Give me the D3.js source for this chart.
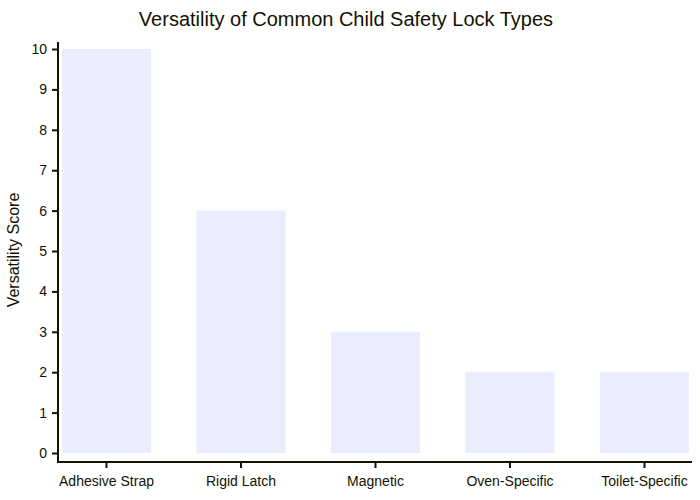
<!DOCTYPE html>
<html>
<head>
<meta charset="utf-8">
<script src="https://cdn.jsdelivr.net/npm/d3@7"></script>
<style>
  body { margin: 0; background: #fff; }
  text { font-family: "Liberation Sans", Arial, sans-serif; fill: #131300; }
</style>
</head>
<body>
<div id="chart"></div>
<script>
// data
const categories = ["Adhesive Strap", "Rigid Latch", "Magnetic", "Oven-Specific", "Toilet-Specific"];
const scores = [10, 6, 3, 2, 2];
const yTicks = [0, 1, 2, 3, 4, 5, 6, 7, 8, 9, 10];

const width = 700;
const height = 500;
const axisColor = "#131300";

const svg = d3.select("#chart")
    .append("svg")
        .attr("width", width)
        .attr("height", height);

// scales
const xScale = d3.scaleBand()
    .domain(categories)
    .range([59, 692])
    .paddingInner(0.338)
    .paddingOuter(0.022);

const yScale = d3.scaleLinear()
    .domain([0, 10])
    .range([453, 49]);

// bars
svg.append("g")
    .selectAll("rect")
    .data(categories)
    .join("rect")
        .attr("x", d => xScale(d))
        .attr("y", (d, i) => yScale(scores[i]))
        .attr("width", xScale.bandwidth())
        .attr("height", (d, i) => yScale(0) - yScale(scores[i]))
        .attr("fill", "#ECECFF");

// y axis
const yAxis = svg.append("g")
    .attr("transform", "translate(58,0)")
    .call(d3.axisLeft(yScale).tickValues(yTicks).tickSize(6).tickPadding(5).tickSizeOuter(0));
yAxis.select(".domain").remove();
yAxis.selectAll(".tick line").attr("stroke", axisColor).attr("stroke-width", 2);
yAxis.selectAll(".tick text").attr("font-size", 14).style("font-family", "Liberation Sans, Arial, sans-serif").attr("fill", axisColor);
svg.append("line")
    .attr("x1", 58).attr("x2", 58)
    .attr("y1", 42).attr("y2", 463)
    .attr("stroke", axisColor).attr("stroke-width", 2);

// x axis
const xAxis = svg.append("g")
    .attr("transform", "translate(0,462)")
    .call(d3.axisBottom(xScale).tickSize(6).tickPadding(8).tickSizeOuter(0));
xAxis.select(".domain").remove();
xAxis.selectAll(".tick line").attr("stroke", axisColor).attr("stroke-width", 2);
xAxis.selectAll(".tick text").attr("font-size", 14).style("font-family", "Liberation Sans, Arial, sans-serif").attr("fill", axisColor);
svg.append("line")
    .attr("x1", 57).attr("x2", 692)
    .attr("y1", 462).attr("y2", 462)
    .attr("stroke", axisColor).attr("stroke-width", 2);

// title
svg.append("text")
    .attr("x", 346)
    .attr("y", 26)
    .attr("text-anchor", "middle")
    .attr("font-size", 20)
    .text("Versatility of Common Child Safety Lock Types");

// y label
svg.append("text")
    .attr("transform", "translate(19,250) rotate(-90)")
    .attr("text-anchor", "middle")
    .attr("font-size", 16)
    .text("Versatility Score");
</script>
</body>
</html>
